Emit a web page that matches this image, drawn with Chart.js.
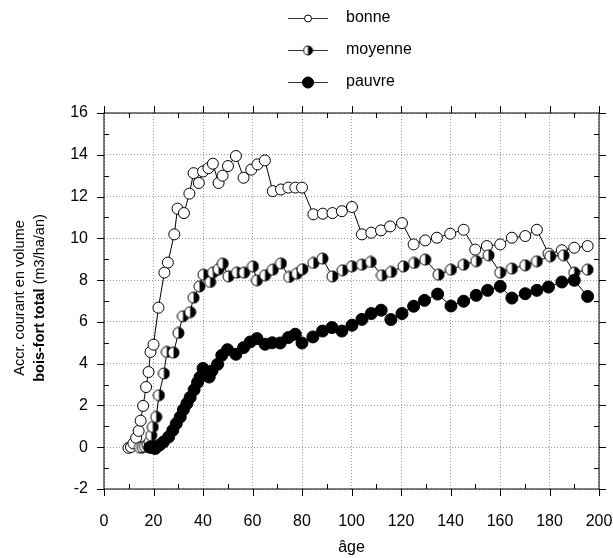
<!DOCTYPE html>
<html>
<head>
<meta charset="utf-8">
<script src="https://cdn.jsdelivr.net/npm/chart.js@4.4.1/dist/chart.umd.min.js"></script>
<style>
  html, body { margin: 0; padding: 0; background: #fff; }
  canvas { display: block; }
</style>
</head>
<body>
<canvas id="myCanvas" width="613" height="558"></canvas>
<script>
// ages (x) and values (y)
const bonneAge = [9.9,10.9,11.9,13,14,14.8,15.8,17,18,18.8,20,22,24.4,25.8,28.4,29.7,32.3,34.5,36.2,38.3,40,42.2,44,46.3,47.9,50.1,53.3,56.4,59.5,62,65,68.2,71.5,74.5,77.3,80,84.6,88.4,92.3,96.1,100.2,104.2,108,111.9,115.6,120.4,125.1,129.8,134.5,139.9,145.3,150,154.7,160.1,164.8,170.2,174.9,179.6,185,190,195.4];
const bonneVal = [-0.03,0.01,0.18,0.45,0.78,1.27,1.98,2.88,3.6,4.56,4.91,6.68,8.36,8.84,10.19,11.42,11.21,12.14,13.12,12.65,13.2,13.36,13.57,12.65,13.0,13.46,13.94,12.9,13.29,13.54,13.73,12.26,12.34,12.43,12.43,12.43,11.15,11.18,11.21,11.3,11.5,10.19,10.27,10.38,10.57,10.73,9.71,9.9,10.03,10.22,10.41,9.46,9.63,9.71,10.03,10.11,10.41,9.27,9.43,9.55,9.63];

const moyenneAge = [14.5,15.5,16.5,17.5,18.4,19.1,19.7,21.1,22.2,24.2,25.4,28.1,30.1,31.9,34.8,36.2,38.6,40.2,42.9,44,46.3,48,50.3,53.7,56.6,60.2,61.8,65.1,68.2,71.5,74.8,77.9,80.2,84.6,88.3,92.3,96.4,100.2,104.2,107.8,112.3,116,121,125.3,129.8,135.2,140.2,145.3,150.4,155.4,160.1,164.8,170.2,174.9,180.3,185.7,190,195.4];
const moyenneVal = [-0.02,0.0,0.03,0.1,0.25,0.57,0.97,1.45,2.49,3.53,4.56,4.53,5.47,6.27,6.47,7.16,7.7,8.26,7.91,8.36,8.52,8.79,8.18,8.36,8.36,8.66,7.99,8.23,8.5,8.8,8.15,8.31,8.52,8.82,9.03,8.18,8.47,8.66,8.74,8.87,8.23,8.39,8.66,8.82,8.98,8.26,8.5,8.74,8.91,9.19,8.36,8.55,8.71,8.9,9.14,9.19,8.36,8.5];

const pauvreAge = [18.5,19.4,20.7,22.4,24,26.1,27.8,29.2,30.8,32.1,33.5,34.8,36.4,37.8,38.8,40,42.5,43.6,45.9,47.6,49.9,53.3,56.4,59.1,61.8,65.1,68,71.2,74.5,77.3,80,84.4,88.3,92.1,96.1,100.2,104.2,108,112,115.9,120.4,125.1,129.5,134.8,140.2,145.3,150.4,155,160.1,164.8,170.2,174.9,179.6,185,190,195.4];
const pauvreVal = [0.0,-0.01,-0.06,0.1,0.25,0.49,0.81,1.13,1.45,1.8,2.09,2.38,2.75,3.1,3.35,3.77,3.36,3.65,3.97,4.4,4.67,4.45,4.77,5.04,5.2,4.93,5.0,4.99,5.25,5.41,4.99,5.28,5.56,5.73,5.56,5.84,6.12,6.4,6.56,6.11,6.4,6.75,7.03,7.33,6.76,6.99,7.27,7.51,7.7,7.14,7.35,7.51,7.67,7.91,7.99,7.22];

const seriesNames = ['bonne', 'moyenne', 'pauvre'];
const xTicks = [0, 20, 40, 60, 80, 100, 120, 140, 160, 180, 200];
const yTicks = [-2, 0, 2, 4, 6, 8, 10, 12, 14, 16];

const FONT = '"Liberation Sans", Arial, Helvetica, sans-serif';

function pairs(xs, ys) {
    return xs.map((x, i) => ({ x: x, y: ys[i] }));
}

// half filled marker (left white, right black)
function halfMarker(r) {
    const c = document.createElement('canvas');
    const s = Math.ceil(r * 2 + 2);
    c.width = s; c.height = s;
    const g = c.getContext('2d');
    const m = s / 2;
    g.fillStyle = '#fff';
    g.beginPath(); g.arc(m, m, r, 0, Math.PI * 2); g.fill();
    g.fillStyle = '#000';
    g.beginPath(); g.arc(m, m, r, -Math.PI / 2, Math.PI / 2); g.closePath(); g.fill();
    g.strokeStyle = '#000'; g.lineWidth = 1;
    g.beginPath(); g.arc(m, m, r, 0, Math.PI * 2); g.stroke();
    return c;
}

const halfBig = halfMarker(5.5);
const halfSmall = halfMarker(4.5);

// frame with ticks: major outside, minor inside
const framePlugin = {
    id: 'frame',
    afterDraw(chart) {
        const ctx = chart.ctx;
        const a = chart.chartArea;
        const xs = chart.scales.x, ys = chart.scales.y;
        ctx.save();
        ctx.strokeStyle = '#000';
        ctx.lineWidth = 1;
        ctx.strokeRect(a.left, a.top, a.right - a.left, a.bottom - a.top);
        ctx.beginPath();
        for (let v = 0; v <= 200; v += 10) {
            const px = Math.round(xs.getPixelForValue(v)) + 0.5;
            const major = v % 20 === 0;
            if (major) {
                ctx.moveTo(px, a.bottom); ctx.lineTo(px, a.bottom + 7);
                ctx.moveTo(px, a.top); ctx.lineTo(px, a.top - 7);
            } else {
                ctx.moveTo(px, a.bottom); ctx.lineTo(px, a.bottom - 5);
                ctx.moveTo(px, a.top); ctx.lineTo(px, a.top + 5);
            }
        }
        for (let v = -2; v <= 16; v += 1) {
            const py = Math.round(ys.getPixelForValue(v)) + 0.5;
            const major = v % 2 === 0;
            if (major) {
                ctx.moveTo(a.left, py); ctx.lineTo(a.left - 7, py);
                ctx.moveTo(a.right, py); ctx.lineTo(a.right + 7, py);
            } else {
                ctx.moveTo(a.left, py); ctx.lineTo(a.left + 5, py);
                ctx.moveTo(a.right, py); ctx.lineTo(a.right - 5, py);
            }
        }
        ctx.stroke();

        // axis titles
        ctx.fillStyle = '#000';
        ctx.font = '16px ' + FONT;
        ctx.textAlign = 'center';
        ctx.textBaseline = 'middle';
        ctx.fillText('âge', (a.left + a.right) / 2, 548);

        const cy = (a.top + a.bottom) / 2 - 3;
        ctx.translate(0, cy);
        ctx.rotate(-Math.PI / 2);
        ctx.font = '14.5px ' + FONT;
        ctx.fillText('Accr. courant en volume', 0, 20);
        const boldTxt = 'bois-fort total';
        const normTxt = ' (m3/ha/an)';
        ctx.font = 'bold 14.5px ' + FONT;
        const wb = ctx.measureText(boldTxt).width;
        ctx.font = '14.5px ' + FONT;
        const wn = ctx.measureText(normTxt).width;
        const x0 = -(wb + wn) / 2;
        ctx.textAlign = 'left';
        ctx.font = 'bold 14.5px ' + FONT;
        ctx.fillText(boldTxt, x0, 40);
        ctx.font = '14.5px ' + FONT;
        ctx.fillText(normTxt, x0 + wb, 40);
        ctx.restore();
    }
};

// legend stacked vertically at the top
const legendPlugin = {
    id: 'vlegend',
    afterDraw(chart) {
        const ctx = chart.ctx;
        const rows = [18, 50, 82];
        ctx.save();
        chart.data.datasets.forEach((ds, i) => {
            const y = rows[i];
            ctx.strokeStyle = '#333';
            ctx.lineWidth = 1;
            ctx.beginPath(); ctx.moveTo(288, y + 0.5); ctx.lineTo(328, y + 0.5); ctx.stroke();
            if (i === 1) {
                ctx.drawImage(halfSmall, 308 - halfSmall.width / 2, y - halfSmall.height / 2 + 0.5);
            } else {
                const r = i === 0 ? 3.5 : 5.5;
                ctx.beginPath(); ctx.arc(308, y + 0.5, r, 0, Math.PI * 2);
                ctx.fillStyle = i === 0 ? '#fff' : '#000';
                ctx.fill();
                ctx.strokeStyle = '#000';
                ctx.stroke();
            }
            ctx.fillStyle = '#000';
            ctx.font = '16px ' + FONT;
            ctx.textAlign = 'left';
            ctx.textBaseline = 'middle';
            ctx.fillText(ds.label, 346, y);
        });
        ctx.restore();
    }
};

function init() {
    const ctx = document.getElementById('myCanvas').getContext('2d');
    const gridStyle = {
        color: '#9a9a9a',
        lineWidth: 1,
        drawTicks: false
    };
    new Chart(ctx, {
        type: 'line',
        data: {
            datasets: [{
                label: seriesNames[0],
                data: pairs(bonneAge, bonneVal),
                borderColor: '#000',
                borderWidth: 1,
                pointStyle: 'circle',
                pointRadius: 5.5,
                pointBackgroundColor: '#fff',
                pointBorderColor: '#000',
                pointBorderWidth: 1,
                tension: 0,
                order: 3
            }, {
                label: seriesNames[1],
                data: pairs(moyenneAge, moyenneVal),
                borderColor: '#000',
                borderWidth: 1,
                pointStyle: halfBig,
                pointRadius: 5.5,
                tension: 0,
                order: 2
            }, {
                label: seriesNames[2],
                data: pairs(pauvreAge, pauvreVal),
                borderColor: '#000',
                borderWidth: 1,
                pointStyle: 'circle',
                pointRadius: 6,
                pointBackgroundColor: '#000',
                pointBorderColor: '#000',
                pointBorderWidth: 1,
                tension: 0,
                order: 1
            }]
        },
        options: {
            responsive: false,
            animation: false,
            layout: { autoPadding: false, padding: { top: 113, right: 14, left: 0, bottom: 0 } },
            plugins: {
                legend: { display: false },
                tooltip: { enabled: false }
            },
            scales: {
                x: {
                    type: 'linear',
                    min: 0, max: 200,
                    afterBuildTicks: s => { s.ticks = xTicks.map(v => ({ value: v })); },
                    ticks: { color: '#000', font: { family: FONT, size: 16 }, padding: 23, maxRotation: 0 },
                    grid: gridStyle,
                    border: { display: false, dash: [1, 2] },
                    afterFit: s => { s.height = 69; s.paddingLeft = 0; s.paddingRight = 0; }
                },
                y: {
                    min: -2, max: 16,
                    afterBuildTicks: s => { s.ticks = yTicks.map(v => ({ value: v })); },
                    ticks: { color: '#000', font: { family: FONT, size: 16 }, padding: 16 },
                    grid: gridStyle,
                    border: { display: false, dash: [1, 2] },
                    afterFit: s => { s.width = 104; s.paddingTop = 0; s.paddingBottom = 0; }
                }
            }
        },
        plugins: [framePlugin, legendPlugin]
    });
}

document.addEventListener('DOMContentLoaded', init);
</script>
</body>
</html>
